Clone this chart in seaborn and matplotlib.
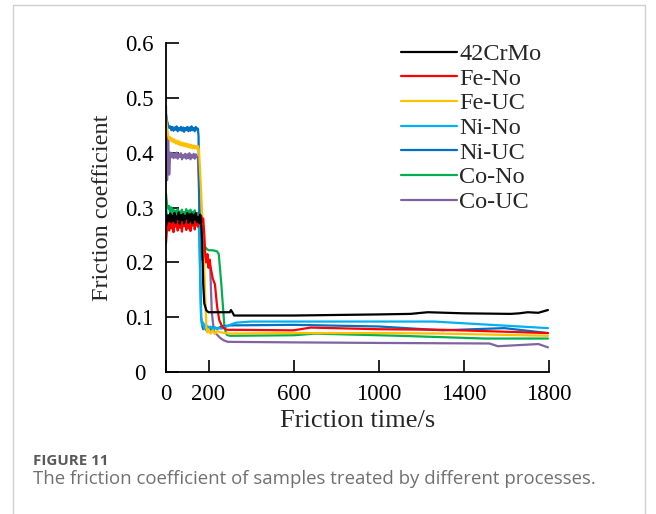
import numpy as np
import pandas as pd
import matplotlib
matplotlib.use("Agg")
import matplotlib.pyplot as plt
from matplotlib.patches import Rectangle
from matplotlib.lines import Line2D
import seaborn as sns

# ---------------- data ----------------
SAMPLES = ["42CrMo", "Fe-No", "Fe-UC", "Ni-No", "Ni-UC", "Co-No", "Co-UC"]
COLORS = ["#000000", "#FF0000", "#FFC000", "#00B0F0", "#0070C0", "#00B050", "#8064A2"]

X_TICKS = [0, 200, 600, 1000, 1400, 1800]
Y_TICKS = [0, 0.1, 0.2, 0.3, 0.4, 0.5, 0.6]
Y_TICK_LABELS = ["0", "0.1", "0.2", "0.3", "0.4", "0.5", "0.6"]

# running-in stage sampling times (s)
PLATEAU_T = [0, 5, 10, 15, 20, 25, 30, 35, 40, 45, 50, 55, 60, 65, 70,
             75, 80, 85, 90, 95, 100, 105, 110, 115, 120, 125, 130, 135, 140, 145]

crmo_plateau = [0.265, 0.278, 0.286, 0.275, 0.289, 0.273, 0.285, 0.276, 0.290, 0.272,
                0.284, 0.279, 0.291, 0.270, 0.286, 0.277, 0.288, 0.271, 0.285, 0.280,
                0.290, 0.272, 0.287, 0.276, 0.289, 0.271, 0.286, 0.278, 0.290, 0.274]
crmo_tail_t = [150, 155, 160, 165, 170, 175, 180, 190, 200, 300, 305, 312, 320, 600,
               1000, 1150, 1230, 1400, 1620, 1660, 1700, 1750, 1795]
crmo_tail = [0.283, 0.272, 0.287, 0.276, 0.24, 0.16, 0.125, 0.112, 0.109, 0.109, 0.113,
             0.109, 0.103, 0.103, 0.105, 0.106, 0.109, 0.107, 0.106, 0.107, 0.109, 0.108, 0.113]

feno_plateau = [0.235, 0.262, 0.275, 0.258, 0.282, 0.262, 0.278, 0.255, 0.283, 0.265,
                0.276, 0.258, 0.281, 0.263, 0.279, 0.256, 0.284, 0.266, 0.277, 0.259,
                0.282, 0.262, 0.280, 0.257, 0.285, 0.268, 0.279, 0.260, 0.284, 0.270]
feno_tail_t = [150, 155, 160, 165, 170, 175, 180, 185, 190, 195, 200, 205, 210, 220, 230,
               240, 250, 265, 285, 600, 680, 1000, 1300, 1795]
feno_tail = [0.265, 0.282, 0.270, 0.285, 0.275, 0.28, 0.25, 0.21, 0.20, 0.215, 0.19, 0.205,
             0.19, 0.17, 0.16, 0.12, 0.095, 0.082, 0.077, 0.076, 0.081, 0.078, 0.077, 0.071]

feuc_plateau = [0.465, 0.445, 0.432, 0.425, 0.428, 0.421, 0.426, 0.419, 0.424, 0.417,
                0.422, 0.416, 0.421, 0.414, 0.419, 0.413, 0.418, 0.412, 0.417, 0.411,
                0.416, 0.410, 0.415, 0.409, 0.414, 0.408, 0.413, 0.408, 0.412, 0.407]
feuc_tail_t = [150, 155, 165, 175, 185, 190, 195, 200, 210, 220, 230, 240, 260, 300, 600,
               1000, 1300, 1795]
feuc_tail = [0.412, 0.405, 0.33, 0.24, 0.13, 0.08, 0.072, 0.078, 0.07, 0.076, 0.069, 0.075,
             0.072, 0.070, 0.071, 0.071, 0.070, 0.066]

nino_plateau = [0.300, 0.285, 0.276, 0.282, 0.272, 0.284, 0.274, 0.281, 0.270, 0.283,
                0.275, 0.280, 0.271, 0.284, 0.273, 0.279, 0.270, 0.282, 0.274, 0.280,
                0.272, 0.283, 0.273, 0.279, 0.271, 0.282, 0.275, 0.280, 0.270, 0.281]
nino_tail_t = [150, 155, 160, 165, 170, 175, 180, 185, 190, 195, 200, 210, 220, 230, 240,
               250, 260, 280, 300, 330, 400, 1260, 1795]
nino_tail = [0.275, 0.26, 0.18, 0.10, 0.085, 0.09, 0.08, 0.086, 0.078, 0.084, 0.079, 0.083,
             0.077, 0.082, 0.078, 0.080, 0.079, 0.082, 0.086, 0.090, 0.092, 0.092, 0.080]

niuc_plateau = [0.470, 0.458, 0.450, 0.445, 0.448, 0.441, 0.447, 0.440, 0.446, 0.442,
                0.448, 0.439, 0.445, 0.441, 0.447, 0.440, 0.446, 0.438, 0.445, 0.441,
                0.447, 0.439, 0.446, 0.440, 0.448, 0.441, 0.445, 0.439, 0.447, 0.442]
niuc_tail_t = [150, 153, 160, 165, 170, 175, 180, 190, 200, 210, 220, 240, 260, 300, 600,
               1000, 1300, 1590, 1795]
niuc_tail = [0.444, 0.43, 0.2, 0.1, 0.085, 0.078, 0.083, 0.076, 0.082, 0.077, 0.081, 0.079,
             0.083, 0.085, 0.086, 0.083, 0.076, 0.080, 0.071]

cono_plateau = [0.325, 0.305, 0.298, 0.303, 0.285, 0.300, 0.278, 0.296, 0.272, 0.294,
                0.275, 0.297, 0.268, 0.293, 0.271, 0.296, 0.266, 0.292, 0.274, 0.297,
                0.268, 0.294, 0.270, 0.296, 0.265, 0.292, 0.273, 0.295, 0.270, 0.290]
cono_tail_t = [150, 155, 160, 165, 170, 180, 190, 200, 220, 240, 248, 260, 275, 285, 300,
               600, 700, 1100, 1500, 1795]
cono_tail = [0.275, 0.293, 0.272, 0.285, 0.26, 0.23, 0.225, 0.222, 0.222, 0.22, 0.215, 0.16,
             0.08, 0.068, 0.066, 0.067, 0.070, 0.066, 0.061, 0.061]

couc_plateau = [0.485, 0.350, 0.430, 0.360, 0.400, 0.392, 0.399, 0.390, 0.398, 0.391,
                0.400, 0.389, 0.397, 0.392, 0.399, 0.388, 0.396, 0.391, 0.398, 0.389,
                0.397, 0.390, 0.399, 0.388, 0.396, 0.391, 0.398, 0.389, 0.397, 0.392]
couc_tail_t = [150, 155, 160, 170, 180, 190, 200, 208, 215, 225, 235, 245, 255, 270, 290,
               600, 1000, 1520, 1560, 1750, 1795]
couc_tail = [0.39, 0.33, 0.24, 0.205, 0.198, 0.205, 0.195, 0.19, 0.11, 0.075, 0.07, 0.066,
             0.062, 0.058, 0.055, 0.054, 0.053, 0.052, 0.047, 0.051, 0.045]

SERIES = {
    "42CrMo": (crmo_plateau, crmo_tail_t, crmo_tail),
    "Fe-No": (feno_plateau, feno_tail_t, feno_tail),
    "Fe-UC": (feuc_plateau, feuc_tail_t, feuc_tail),
    "Ni-No": (nino_plateau, nino_tail_t, nino_tail),
    "Ni-UC": (niuc_plateau, niuc_tail_t, niuc_tail),
    "Co-No": (cono_plateau, cono_tail_t, cono_tail),
    "Co-UC": (couc_plateau, couc_tail_t, couc_tail),
}

rows = []
for name in SAMPLES:
    plat, tt, tv = SERIES[name]
    ts = PLATEAU_T + tt
    vs = plat + tv
    for i, (t, v) in enumerate(zip(ts, vs)):
        rows.append({"sample": name, "order": i, "t": t, "mu": v})
df = pd.DataFrame(rows)

# ---------------- style ----------------
sns.set_style("white")
plt.rcParams["font.family"] = ["Liberation Serif", "DejaVu Serif"]

W, H = 656, 514
fig = plt.figure(figsize=(W / 100, H / 100), dpi=100)

# outer light frame
fig.patches.append(Rectangle((13 / W, -0.1), (645 - 13) / W, 1.1 - 5 / H,
                             transform=fig.transFigure, fill=False,
                             edgecolor="#cfcfcf", linewidth=1.0))

ax = fig.add_axes([166 / W, 142 / H, 383 / W, 329 / H])

draw_order = ["Co-UC", "Co-No", "Ni-UC", "Ni-No", "Fe-UC", "Fe-No", "42CrMo"]
palette = dict(zip(SAMPLES, COLORS))
for name in draw_order:
    sns.lineplot(data=df[df["sample"] == name], x="t", y="mu", color=palette[name],
                 estimator=None, sort=False, linewidth=1.6, ax=ax, legend=False)

ax.set_xlim(0, 1800)
ax.set_ylim(0, 0.6)
ax.set_xticks(X_TICKS)
ax.set_xticklabels([str(v) for v in X_TICKS])
ax.set_yticks(Y_TICKS)
ax.set_yticklabels(Y_TICK_LABELS)
for lab in ax.get_yticklabels():
    lab.set_horizontalalignment("center")

ax.tick_params(axis="both", direction="in", length=9, width=1.2, color="black",
               labelsize=16.5, labelcolor="black")
ax.tick_params(axis="y", pad=19)
ax.tick_params(axis="x", pad=9)
ax.tick_params(axis="x", which="both", bottom=True, top=False)
ax.tick_params(axis="y", which="both", left=True, right=False)

for s in ["top", "right"]:
    ax.spines[s].set_visible(False)
for s in ["left", "bottom"]:
    ax.spines[s].set_color("black")
    ax.spines[s].set_linewidth(1.3)

ax.set_xlabel("Friction time/s", fontsize=19, labelpad=3)
ax.set_ylabel("Friction coefficient", fontsize=17.5)
ax.yaxis.set_label_coords(-(166 - 113) / 383, 0.5)

handles = [Line2D([0], [0], color=c, linewidth=1.6) for c in COLORS]
fig.legend(handles, SAMPLES, loc="upper left", bbox_to_anchor=(401 / W, 1 - 43 / H),
           frameon=False, fontsize=17.5, handlelength=2.3, handletextpad=0.1,
           labelspacing=0.11, borderpad=0, borderaxespad=0)

fig.text(33 / W, 1 - 461 / H, "FIGURE 11", fontsize=10.9, color="#595959",
         family=["Open Sans", "DejaVu Sans"], fontweight="bold", va="center")
fig.text(33 / W, 1 - 479 / H,
         "The friction coefficient of samples treated by different processes.",
         fontsize=13.4, color="#707070", family=["Open Sans", "DejaVu Sans"], va="center")

fig.savefig("out.png", dpi=100)
